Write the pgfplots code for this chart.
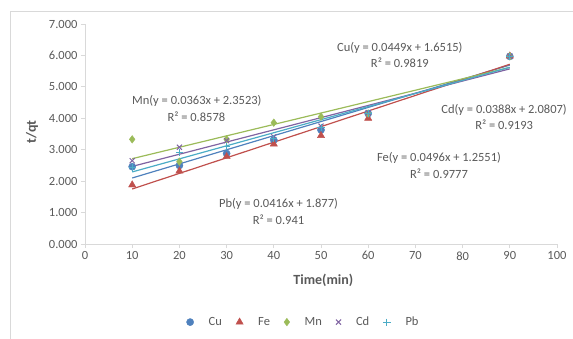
\documentclass[border=0pt]{standalone}
\usepackage{pgfplots}
\pgfplotsset{compat=1.18}
\usepackage{fontspec}
\setmainfont{Carlito}
\definecolor{cu}{HTML}{4F81BD}
\definecolor{fe}{HTML}{C0504D}
\definecolor{mn}{HTML}{9BBB59}
\definecolor{cd}{HTML}{8064A2}
\definecolor{pb}{HTML}{4BACC6}
\definecolor{txt}{HTML}{595959}
\definecolor{axl}{HTML}{D9D9D9}
\begin{document}
\begin{tikzpicture}[x=1pt,y=1pt]
\begin{axis}[
  at={(0,0)}, anchor=south west,
  scale only axis, width=472pt, height=220pt,
  xmin=0, xmax=100, ymin=0, ymax=7,
  xtick={0,10,...,100}, ytick={0,1,...,7},
  axis lines*=left,
  axis line style={draw=axl, line width=0.8pt},
  tick style={draw=axl, line width=0.8pt},
  tick align=outside, major tick length=4pt,
  ticklabel style={font=\fontsize{12.5}{14}\selectfont, text=txt},
  /pgf/number format/assume math mode=true,
  yticklabel style={/pgf/number format/.cd, fixed, fixed zerofill, precision=3},
  xlabel={\textbf{Time(min)}},
  ylabel={\textbf{t/qt}},
  label style={font=\fontsize{14}{16}\selectfont, text=txt},
  xlabel style={at={(axis description cs:0.505,-0.165)}, anchor=center},
  ylabel style={at={(axis description cs:-0.112,0.509)}, anchor=center, rotate=0},
  legend columns=5,
  legend style={draw=none, fill=none, at={(axis description cs:0.463,-0.355)}, anchor=center,
    font=\fontsize{12.5}{14}\selectfont, text=txt,
    /tikz/every even column/.append style={column sep=12pt}},
  legend cell align=left,
  clip=false,
]
% trendlines
\addplot[cu, line width=1.2pt, forget plot] coordinates {(10,2.1005) (90,5.6925)};
\addplot[fe, line width=1.2pt, forget plot] coordinates {(10,1.7511) (90,5.7191)};
\addplot[mn, line width=1.2pt, forget plot] coordinates {(10,2.7153) (90,5.6193)};
\addplot[cd, line width=1.2pt, forget plot] coordinates {(10,2.4687) (90,5.5727)};
\addplot[pb, line width=1.2pt, forget plot] coordinates {(10,2.2930) (90,5.6210)};
% data
\addplot[only marks, mark=*, mark size=3.6pt, cu, mark options={fill=cu}] coordinates {
(10,2.46) (20,2.50) (30,2.88) (40,3.31) (50,3.63) (60,4.15) (90,5.97)};
\addlegendentry{\hspace{13pt}Cu}
\addplot[only marks, mark=triangle*, mark size=4.2pt, fe, mark options={fill=fe}] coordinates {
(10,1.88) (20,2.32) (30,2.78) (40,3.18) (50,3.45) (60,4.00) (90,5.98)};
\addlegendentry{\hspace{13pt}Fe}
\addplot[only marks, mark=diamond*, mark size=3.8pt, mn, mark options={fill=mn}] coordinates {
(10,3.33) (20,2.62) (30,3.33) (40,3.86) (50,4.05) (60,4.15) (90,5.97)};
\addlegendentry{\hspace{13pt}Mn}
\addplot[only marks, mark=x, mark size=3.6pt, cd, mark options={line width=1pt}] coordinates {
(10,2.65) (20,3.08) (30,3.29) (40,3.41) (50,3.75) (60,4.18) (90,5.97)};
\addlegendentry{\hspace{13pt}Cd}
\addplot[only marks, mark=+, mark size=3.6pt, pb, mark options={line width=1pt}] coordinates {
(10,2.42) (20,2.90) (30,3.10) (40,3.35) (50,3.70) (60,4.15) (90,5.97)};
\addlegendentry{\hspace{13pt}Pb}
% equation labels
\node[text=txt, font=\fontsize{12.5}{14}\selectfont] at (axis cs:23.7,4.56) {Mn(y = 0.0363x + 2.3523)};
\node[text=txt, font=\fontsize{12.5}{14}\selectfont] at (axis cs:23.6,4.05) {R² = 0.8578};
\node[text=txt, font=\fontsize{12.5}{14}\selectfont] at (axis cs:66.7,6.23) {Cu(y = 0.0449x + 1.6515)};
\node[text=txt, font=\fontsize{12.5}{14}\selectfont] at (axis cs:66.7,5.78) {R² = 0.9819};
\node[text=txt, font=\fontsize{12.5}{14}\selectfont] at (axis cs:88.8,4.26) {Cd(y = 0.0388x + 2.0807)};
\node[text=txt, font=\fontsize{12.5}{14}\selectfont] at (axis cs:88.8,3.79) {R² = 0.9193};
\node[text=txt, font=\fontsize{12.5}{14}\selectfont] at (axis cs:75.0,2.73) {Fe(y = 0.0496x + 1.2551)};
\node[text=txt, font=\fontsize{12.5}{14}\selectfont] at (axis cs:75.0,2.25) {R² = 0.9777};
\node[text=txt, font=\fontsize{12.5}{14}\selectfont] at (axis cs:41.0,1.26) {Pb(y = 0.0416x + 1.877)};
\node[text=txt, font=\fontsize{12.5}{14}\selectfont] at (axis cs:41.0,0.76) {R² = 0.941};
\end{axis}
\draw[axl, line width=0.8pt] (-75,-110) -- (-75,233) -- (500,233);
\pgfresetboundingbox
\path[use as bounding box] (-85,-94) rectangle (488,244);
\end{tikzpicture}
\end{document}
